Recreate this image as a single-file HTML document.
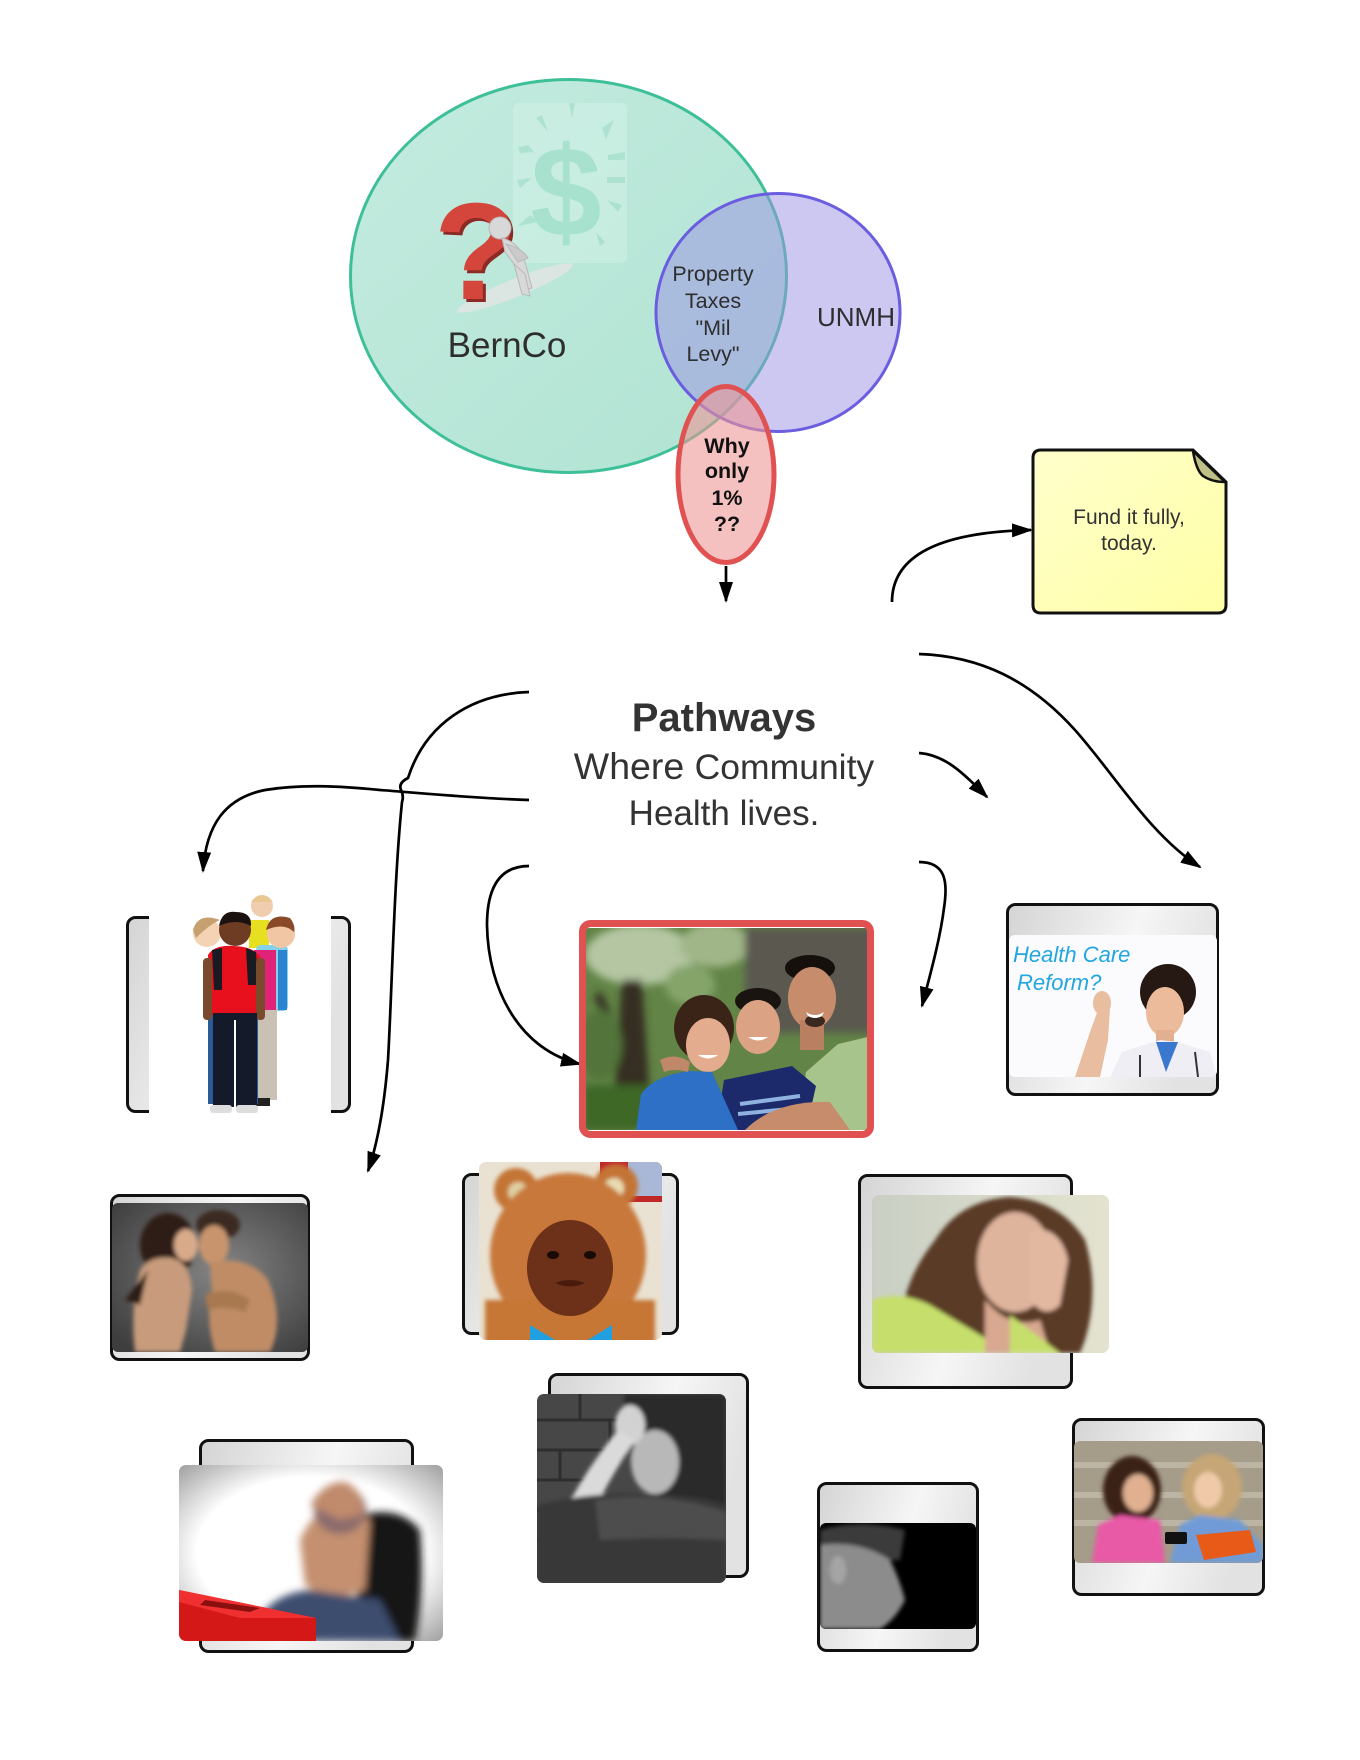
<!DOCTYPE html>
<html><head><meta charset="utf-8"><style>
html,body{margin:0;padding:0;background:#fff;}
svg{display:block;font-family:"Liberation Sans",Arial,sans-serif;}
</style></head><body>
<svg width="1360" height="1760" viewBox="0 0 1360 1760" xmlns="http://www.w3.org/2000/svg">
<defs>
 <marker id="ah" viewBox="0 0 21 14" refX="19" refY="7" markerWidth="21" markerHeight="14" markerUnits="userSpaceOnUse" orient="auto"><path d="M0 0 L21 7 L0 14 z" fill="#000"/></marker>
 <linearGradient id="fr" x1="0" y1="0" x2="1" y2="0.3"><stop offset="0" stop-color="#d4d4d4"/><stop offset="0.6" stop-color="#f6f6f6"/><stop offset="1" stop-color="#e2e2e2"/></linearGradient>
 <linearGradient id="bern" x1="0" y1="0" x2="1" y2="1"><stop offset="0" stop-color="#c3ebdf"/><stop offset="1" stop-color="#b0e3d2"/></linearGradient>
 <linearGradient id="sticky" x1="0" y1="0" x2="1" y2="1"><stop offset="0" stop-color="#ffffcc"/><stop offset="1" stop-color="#ffffa6"/></linearGradient>
 <radialGradient id="coupleBg" cx="0.55" cy="0.45" r="0.7"><stop offset="0" stop-color="#858585"/><stop offset="1" stop-color="#3e3e3e"/></radialGradient>
 <radialGradient id="vign" cx="0.5" cy="0.5" r="0.72"><stop offset="0.6" stop-color="#ffffff"/><stop offset="1" stop-color="#9a9a9a"/></radialGradient>
 <linearGradient id="stressBg" x1="0" y1="0" x2="1" y2="0"><stop offset="0" stop-color="#c9cfc4"/><stop offset="1" stop-color="#e3e3cf"/></linearGradient>
 <filter id="b2" x="-10%" y="-10%" width="120%" height="120%"><feGaussianBlur stdDeviation="2"/></filter>
 <filter id="b4" x="-20%" y="-20%" width="140%" height="140%"><feGaussianBlur stdDeviation="4"/></filter>
 <clipPath id="cFam"><rect x="584" y="928" width="286" height="202" rx="5"/></clipPath>
 <clipPath id="cHC"><rect x="1009" y="935" width="208" height="142" rx="6"/></clipPath>
 <clipPath id="cCou"><rect x="112" y="1203" width="196" height="149" rx="6"/></clipPath>
 <clipPath id="cBaby"><rect x="479" y="1162" width="183" height="178" rx="7"/></clipPath>
 <clipPath id="cStr"><rect x="872" y="1195" width="237" height="158" rx="7"/></clipPath>
 <clipPath id="cBlur"><rect x="179" y="1465" width="264" height="176" rx="7"/></clipPath>
 <clipPath id="cBW"><rect x="537" y="1394" width="189" height="189" rx="7"/></clipPath>
 <clipPath id="cFace"><rect x="820" y="1523" width="156" height="106" rx="6"/></clipPath>
 <clipPath id="cTeen"><rect x="1074" y="1441" width="189" height="122" rx="6"/></clipPath>
</defs>

<!-- ========== VENN ========== -->
<ellipse cx="568.5" cy="276" rx="218" ry="196.5" fill="url(#bern)" stroke="#3dbf98" stroke-width="3"/>
<g opacity="0.32">
 <rect x="513" y="103" width="114" height="160" rx="6" fill="#e4f8f1"/>
 <text x="566" y="236" text-anchor="middle" font-size="128" font-weight="bold" fill="#7fd6b6">$</text>
 <g fill="#8fd6bc">
  <polygon points="569,103 575,103 572,118"/>
  <polygon points="536,118 542,115 548,132"/>
  <polygon points="602,128 614,120 606,139"/>
  <polygon points="518,147 528,145 534,152 520,153"/>
  <polygon points="608,155 625,152 625,160 608,160"/>
  <polygon points="607,177 625,177 625,183 607,183"/>
  <polygon points="517,180 532,178 520,188"/>
  <polygon points="607,200 622,205 618,212"/>
  <polygon points="530,215 538,222 518,226"/>
  <polygon points="596,232 605,242 600,246"/>
 </g>
</g>
<!-- question mark figure -->
<ellipse cx="515" cy="288" rx="62" ry="9" transform="rotate(-22 515 288)" fill="#dfe4e2" opacity="0.9"/>
<text x="479" y="302" text-anchor="middle" font-size="138" font-weight="bold" fill="#8c2a24">?</text>
<text x="476" y="299" text-anchor="middle" font-size="138" font-weight="bold" fill="#d4463c">?</text>
<g fill="#d8d8d8" stroke="#b8b8b8" stroke-width="1">
 <circle cx="500" cy="228" r="11"/>
 <path d="M502 238 Q518 242 524 258 L532 288 L524 291 L514 264 L505 252 Z"/>
 <path d="M514 264 L522 294 L530 296 L525 274 Z"/>
 <path d="M506 244 Q522 248 528 258 L518 262 Z" fill="#cacaca"/>
</g>
<text x="507" y="357" text-anchor="middle" font-size="35" fill="#2e2e2e">BernCo</text>

<!-- UNMH -->
<ellipse cx="778" cy="312.5" rx="122" ry="119" fill="rgba(155,145,229,0.5)" stroke="#6b5de0" stroke-width="3"/>
<text x="856" y="326" text-anchor="middle" font-size="26" fill="#2e2e2e">UNMH</text>
<g font-size="21.5" fill="#2e2e2e" text-anchor="middle">
 <text x="713" y="281">Property</text>
 <text x="713" y="308">Taxes</text>
 <text x="713" y="335">"Mil</text>
 <text x="713" y="361">Levy"</text>
</g>

<!-- Why only -->
<ellipse cx="726" cy="474.5" rx="48" ry="88" fill="rgba(237,150,150,0.6)" stroke="#e05252" stroke-width="5"/>
<g font-size="21.5" font-weight="bold" fill="#111" text-anchor="middle">
 <text x="727" y="453">Why</text>
 <text x="727" y="478">only</text>
 <text x="727" y="505">1%</text>
 <text x="727" y="531">??</text>
</g>

<!-- Sticky note -->
<path d="M1041 450 L1193 450 L1226 482 L1226 605 Q1226 613 1218 613 L1041 613 Q1033 613 1033 605 L1033 458 Q1033 450 1041 450 Z" fill="url(#sticky)" stroke="#111" stroke-width="3"/>
<path d="M1193 451 Q1196 470 1203 476 Q1212 482 1225 482 Z" fill="#bfbf88" stroke="#111" stroke-width="2.5" stroke-linejoin="round"/>
<g font-size="21" fill="#333" text-anchor="middle">
 <text x="1129" y="524">Fund it fully,</text>
 <text x="1129" y="550">today.</text>
</g>

<!-- Pathways text -->
<g fill="#333" text-anchor="middle">
 <text x="724" y="731" font-size="40" font-weight="bold">Pathways</text>
 <text x="724" y="779" font-size="37.5">Where <tspan font-size="35.5">Community</tspan></text>
 <text x="724" y="825" font-size="35">Health lives.</text>
</g>

<!-- ========== CONNECTORS ========== -->
<g fill="none" stroke="#000" stroke-width="2.7" marker-end="url(#ah)">
 <path d="M726 566 L726 601"/>
 <path d="M892 602 C892 555 940 532 1031 530"/>
 <path d="M529 692 C470 694 425 725 408 778 Q398 783 401 790 Q404 796 402 802 C394 880 392 990 388 1060 C384 1110 377 1145 368 1171"/>
 <path d="M529 800 C470 798 420 793 380 790 C340 786 300 784 265 790 C225 798 206 825 203 871"/>
 <path d="M529 866 C495 866 487 895 487 925 C488 990 520 1050 580 1064"/>
 <path d="M919 654 C980 656 1030 680 1075 730 C1115 775 1150 835 1200 867"/>
 <path d="M919 753 C945 755 962 772 987 797"/>
 <path d="M919 862 C946 862 948 882 944 908 C940 940 930 975 922 1006"/>
</g>

<!-- ========== KIDS ========== -->
<rect x="127.5" y="917.5" width="222" height="194" rx="8" fill="url(#fr)" stroke="#111" stroke-width="3"/>
<rect x="149" y="912" width="182" height="205" fill="#fff"/>
<g>
 <circle cx="262" cy="906" r="11" fill="#f1cdb0"/>
 <path d="M251 902 Q262 888 273 902 Z" fill="#e8c890"/>
 <rect x="249" y="920" width="20" height="28" fill="#e6e020"/>
 <rect x="256" y="945" width="32" height="66" rx="5" fill="#84d2ea"/>
 <rect x="278" y="950" width="9" height="60" fill="#2a84d0"/>
 <rect x="255" y="1008" width="22" height="92" fill="#c9c1b4"/>
 <circle cx="281" cy="934" r="14" fill="#f1c6a4"/>
 <path d="M266 930 Q270 912 290 918 Q296 926 294 932 Q284 922 266 930 Z" fill="#8a4a2a"/>
 <rect x="256" y="1098" width="14" height="8" fill="#222"/>
 <circle cx="207" cy="933" r="14" fill="#f4d2b4"/>
 <path d="M193 930 Q198 912 220 920 Q210 924 196 938 Z" fill="#c7a070"/>
 <rect x="254" y="950" width="22" height="60" fill="#e02278"/>
 <rect x="208" y="1012" width="50" height="92" fill="#2a5a98"/>
 <path d="M208 955 Q214 945 232 946 Q252 946 260 956 L258 1015 L210 1015 Z" fill="#e8101c"/>
 <path d="M212 950 L222 948 L222 990 L214 990 Z M246 948 L256 952 L258 985 L248 985 Z" fill="#1a1a22"/>
 <rect x="203" y="958" width="9" height="62" rx="4" fill="#7a4a2c"/>
 <rect x="256" y="958" width="9" height="62" rx="4" fill="#7a4a2c"/>
 <circle cx="235" cy="930" r="16" fill="#6d3c22"/>
 <path d="M219 926 Q222 910 236 912 Q252 912 251 926 Q236 918 219 926 Z" fill="#1a120e"/>
 <rect x="213" y="1013" width="44" height="94" fill="#151a2a"/>
 <rect x="234" y="1020" width="2" height="87" fill="#fff"/>
 <rect x="210" y="1105" width="22" height="8" rx="3" fill="#ddd"/>
 <rect x="236" y="1105" width="22" height="8" rx="3" fill="#ddd"/>
</g>

<!-- ========== FAMILY ========== -->
<g clip-path="url(#cFam)">
 <rect x="584" y="928" width="286" height="202" fill="#628446"/>
 <g filter="url(#b4)">
  <ellipse cx="640" cy="955" rx="55" ry="30" fill="#b4c6a2"/>
  <ellipse cx="715" cy="945" rx="35" ry="22" fill="#a0b688"/>
  <ellipse cx="690" cy="985" rx="25" ry="20" fill="#84a46a"/>
  <rect x="745" y="928" width="130" height="105" fill="#5a584f"/>
  <path d="M622 980 L642 980 L652 1130 L612 1130 Z" fill="#352e24"/>
  <path d="M600 990 L625 1040 L618 1045 L594 998 Z" fill="#352e24"/>
  <rect x="584" y="1085" width="70" height="45" fill="#3c6828"/>
  <ellipse cx="600" cy="1045" rx="22" ry="35" fill="#52753a"/>
 </g>
 <path d="M798 1130 L806 1072 L838 1044 L872 1036 L872 1130 Z" fill="#a7c48c"/>
 <ellipse cx="810" cy="968" rx="25" ry="13" fill="#15100c"/>
 <ellipse cx="812" cy="998" rx="24" ry="31" fill="#c68c6c"/>
 <rect x="800" y="1020" width="24" height="30" fill="#b88060"/>
 <ellipse cx="815" cy="1021" rx="10" ry="6" fill="#3a2820"/>
 <path d="M806 1012 Q815 1018 824 1012 L822 1016 Q815 1020 808 1016 Z" fill="#fff"/>
 <path d="M716 1130 L724 1080 L792 1066 L816 1086 L806 1130 Z" fill="#1c2a6c"/>
 <path d="M740 1104 L800 1096 M738 1114 L800 1108" stroke="#8fb2e0" stroke-width="4"/>
 <ellipse cx="758" cy="1001" rx="23" ry="13" fill="#1a1410"/>
 <ellipse cx="758" cy="1027" rx="22" ry="27" fill="#dba283"/>
 <path d="M748 1037 Q758 1044 768 1037 Z" fill="#fff"/>
 <ellipse cx="704" cy="1028" rx="30" ry="33" fill="#3a2418"/>
 <ellipse cx="708" cy="1045" rx="22" ry="27" fill="#e3ac8e"/>
 <path d="M698 1055 Q708 1062 718 1055 Z" fill="#fff"/>
 <path d="M636 1130 L641 1094 Q655 1075 690 1071 L712 1072 L738 1130 Z" fill="#2e70c6"/>
 <path d="M660 1060 Q675 1052 690 1062 L688 1072 Q675 1068 664 1072 Z" fill="#c08868"/>
 <path d="M745 1130 Q775 1100 830 1102 L850 1130 Z" fill="#c68c6c"/>
</g>
<rect x="582.5" y="923.5" width="288" height="211" rx="8" fill="none" stroke="#e05252" stroke-width="7"/>

<!-- ========== HEALTH CARE ========== -->
<rect x="1007.5" y="904.5" width="210" height="190" rx="8" fill="url(#fr)" stroke="#111" stroke-width="3"/>
<g clip-path="url(#cHC)">
 <rect x="1009" y="935" width="208" height="142" fill="#fbfbfd"/>
 <text x="1013" y="962" font-size="22" fill="#22a6e0" font-style="italic">Health Care</text>
 <text x="1017" y="990" font-size="22" fill="#22a6e0" font-style="italic">Reform?</text>
 <path d="M1075 1077 L1090 1032 L1098 1010 L1110 1008 L1108 1040 L1100 1077 Z" fill="#e8bda0"/>
 <ellipse cx="1102" cy="1003" rx="9" ry="12" fill="#e8bda0"/>
 <ellipse cx="1168" cy="992" rx="28" ry="28" fill="#261812"/>
 <ellipse cx="1165" cy="1012" rx="19" ry="25" fill="#ebbb9c"/>
 <rect x="1156" y="1030" width="18" height="20" fill="#e2b090"/>
 <path d="M1110 1077 L1122 1052 L1160 1040 L1178 1042 L1210 1052 L1217 1077 Z" fill="#eeeef4"/>
 <path d="M1156 1042 L1166 1072 L1178 1042 Z" fill="#3a78d0"/>
 <path d="M1140 1055 L1140 1077 M1195 1052 L1198 1077" stroke="#333" stroke-width="2" fill="none"/>
</g>

<!-- ========== COUPLE ========== -->
<rect x="111.5" y="1195.5" width="197" height="164" rx="8" fill="url(#fr)" stroke="#111" stroke-width="3"/>
<g clip-path="url(#cCou)">
 <rect x="112" y="1203" width="196" height="149" fill="url(#coupleBg)"/>
 <g filter="url(#b2)">
  <ellipse cx="168" cy="1245" rx="28" ry="32" fill="#2e1e16"/>
  <path d="M140 1270 Q150 1255 172 1258 Q190 1262 192 1290 L186 1330 L180 1352 L135 1352 Q130 1310 140 1270 Z" fill="#c79b7c"/>
  <ellipse cx="186" cy="1245" rx="12" ry="16" fill="#d8aa8a"/>
  <path d="M148 1270 L125 1300 L140 1305 Z" fill="#2e1e16"/>
  <ellipse cx="218" cy="1225" rx="22" ry="15" fill="#3a2a20"/>
  <ellipse cx="214" cy="1245" rx="15" ry="20" fill="#c8946e"/>
  <path d="M210 1262 Q250 1255 268 1280 Q285 1320 270 1352 L215 1352 Q205 1320 212 1290 Z" fill="#bf8c66"/>
  <path d="M205 1295 Q230 1285 250 1300 L245 1312 Q225 1305 208 1310 Z" fill="#a87850"/>
 </g>
</g>

<!-- ========== BABY ========== -->
<rect x="463.5" y="1174.5" width="214" height="159" rx="8" fill="url(#fr)" stroke="#111" stroke-width="3"/>
<g clip-path="url(#cBaby)">
 <rect x="479" y="1162" width="183" height="178" fill="#e9e2d2"/>
 <rect x="600" y="1162" width="62" height="40" fill="#c02828"/>
 <rect x="628" y="1162" width="34" height="34" fill="#a9b8d6"/>
 <g filter="url(#b2)">
  <circle cx="516" cy="1190" r="22" fill="#c47434"/>
  <circle cx="616" cy="1186" r="22" fill="#c47434"/>
  <circle cx="518" cy="1192" r="10" fill="#e0cfa0"/>
  <circle cx="614" cy="1188" r="10" fill="#e8dcb0"/>
  <ellipse cx="568" cy="1255" rx="78" ry="82" fill="#c8783a"/>
  <rect x="485" y="1300" width="170" height="45" fill="#c67636"/>
 </g>
 <ellipse cx="570" cy="1268" rx="43" ry="48" fill="#6c3118"/>
 <ellipse cx="553" cy="1255" rx="6" ry="4" fill="#1a0a06"/>
 <ellipse cx="590" cy="1255" rx="6" ry="4" fill="#1a0a06"/>
 <path d="M555 1283 Q570 1277 585 1283 Q570 1290 555 1283 Z" fill="#4a1a0c"/>
 <path d="M530 1325 L555 1340 L530 1345 Z M588 1340 L612 1325 L612 1345 Z" fill="#20a0e0"/>
</g>

<!-- ========== STRESSED WOMAN ========== -->
<rect x="859.5" y="1175.5" width="212" height="212" rx="8" fill="url(#fr)" stroke="#111" stroke-width="3"/>
<g clip-path="url(#cStr)">
 <rect x="872" y="1195" width="237" height="158" fill="url(#stressBg)"/>
 <g filter="url(#b2)">
  <path d="M900 1353 Q895 1290 935 1240 Q960 1200 1010 1197 Q1060 1200 1085 1240 Q1100 1290 1085 1340 L1080 1353 Z" fill="#5a3a28"/>
  <path d="M872 1300 Q900 1290 930 1305 L1010 1353 L872 1353 Z" fill="#c6df6c"/>
  <ellipse cx="1015" cy="1262" rx="38" ry="50" fill="#dfb49c"/>
  <path d="M985 1300 Q1010 1330 1040 1320 L1050 1353 L985 1353 Z" fill="#d8a890"/>
  <path d="M1030 1230 Q1060 1225 1068 1260 L1060 1305 Q1045 1320 1030 1300 Z" fill="#e3b8a0"/>
  <path d="M1010 1315 L1060 1353 L1010 1353 Z" fill="#c6df6c"/>
 </g>
</g>

<!-- ========== BLURRED MAN ========== -->
<rect x="200.5" y="1440.5" width="212" height="211" rx="8" fill="url(#fr)" stroke="#111" stroke-width="3"/>
<g clip-path="url(#cBlur)">
 <rect x="179" y="1465" width="264" height="176" fill="url(#vign)"/>
 <g filter="url(#b4)">
  <path d="M360 1515 Q400 1505 420 1530 Q425 1590 415 1641 L360 1641 L355 1560 Z" fill="#151515"/>
  <path d="M300 1540 Q315 1505 345 1505 L370 1520 L365 1590 L330 1600 L305 1585 Z" fill="#c49070"/>
  <ellipse cx="340" cy="1510" rx="26" ry="24" fill="#8a6a6c"/>
  <path d="M310 1505 Q325 1480 345 1482 Q365 1490 362 1515 L340 1520 Z" fill="#c08a6c"/>
  <path d="M250 1641 Q260 1595 310 1590 L380 1600 L400 1641 Z" fill="#3c4d6e"/>
 </g>
 <path d="M179 1590 L316 1618 L316 1641 L179 1641 Z" fill="#d41818"/>
 <path d="M179 1590 L316 1618 L240 1618 L179 1602 Z" fill="#f03030"/>
 <path d="M200 1605 L250 1612 L260 1608 L205 1600 Z" fill="#8a1010"/>
</g>

<!-- ========== BW WOMAN ========== -->
<rect x="549.5" y="1374.5" width="198" height="202" rx="8" fill="url(#fr)" stroke="#111" stroke-width="3"/>
<g clip-path="url(#cBW)">
 <rect x="537" y="1394" width="189" height="189" fill="#474747"/>
 <g stroke="#2e2e2e" stroke-width="3">
  <path d="M537 1420 H630 M537 1450 H630 M537 1480 H600 M537 1510 H590 M537 1540 H580"/>
  <path d="M580 1394 V1420 M610 1420 V1450 M560 1450 V1480 M590 1480 V1510 M555 1510 V1540"/>
 </g>
 <g filter="url(#b2)">
  <path d="M625 1394 L726 1394 L726 1520 L690 1500 L655 1500 Q615 1460 625 1394 Z" fill="#2a2a2a"/>
  <ellipse cx="655" cy="1462" rx="24" ry="32" fill="#b8b8b8"/>
  <ellipse cx="630" cy="1425" rx="15" ry="20" fill="#d2d2d2"/>
  <path d="M560 1520 Q585 1470 618 1430 L635 1440 Q605 1485 585 1530 Z" fill="#dadada"/>
  <path d="M537 1505 Q600 1490 650 1495 Q700 1495 726 1505 L726 1583 L537 1583 Z" fill="#383838"/>
  <path d="M595 1500 Q660 1490 726 1512 L726 1540 Q660 1536 600 1540 Z" fill="#4e4e4e"/>
 </g>
</g>

<!-- ========== BW FACE ========== -->
<rect x="818.5" y="1483.5" width="159" height="167" rx="8" fill="url(#fr)" stroke="#111" stroke-width="3"/>
<g clip-path="url(#cFace)">
 <rect x="820" y="1523" width="156" height="106" fill="#000"/>
 <g filter="url(#b2)">
  <path d="M820 1530 Q860 1518 905 1530 L900 1560 L820 1560 Z" fill="#3a3a3a"/>
  <path d="M820 1545 Q860 1540 890 1560 Q900 1580 905 1600 Q895 1620 880 1629 L820 1629 Z" fill="#8c8c8c"/>
  <ellipse cx="838" cy="1570" rx="8" ry="14" fill="#a5a5a5"/>
 </g>
</g>

<!-- ========== TEENS ========== -->
<rect x="1073.5" y="1419.5" width="190" height="175" rx="8" fill="url(#fr)" stroke="#111" stroke-width="3"/>
<g clip-path="url(#cTeen)">
 <rect x="1074" y="1441" width="189" height="122" fill="#a59c8a"/>
 <g fill="#bdb5a4">
  <rect x="1074" y="1462" width="189" height="6"/>
  <rect x="1074" y="1492" width="189" height="6"/>
  <rect x="1074" y="1520" width="189" height="6"/>
 </g>
 <g filter="url(#b2)">
  <ellipse cx="1132" cy="1490" rx="29" ry="34" fill="#3a2418"/>
  <ellipse cx="1212" cy="1487" rx="30" ry="33" fill="#c6a676"/>
  <ellipse cx="1138" cy="1493" rx="15" ry="19" fill="#e0b090"/>
  <ellipse cx="1208" cy="1490" rx="14" ry="18" fill="#f0caa8"/>
  <path d="M1092 1563 L1098 1525 L1120 1515 L1160 1520 L1165 1563 Z" fill="#e85aa6"/>
  <path d="M1170 1563 L1180 1525 L1200 1515 L1240 1520 L1263 1545 L1263 1563 Z" fill="#6f9bd6"/>
 </g>
 <path d="M1196 1535 L1250 1530 L1256 1552 L1204 1560 Z" fill="#e85a18"/>
 <rect x="1165" y="1532" width="22" height="12" rx="2" fill="#111"/>
</g>

</svg>
</body></html>
